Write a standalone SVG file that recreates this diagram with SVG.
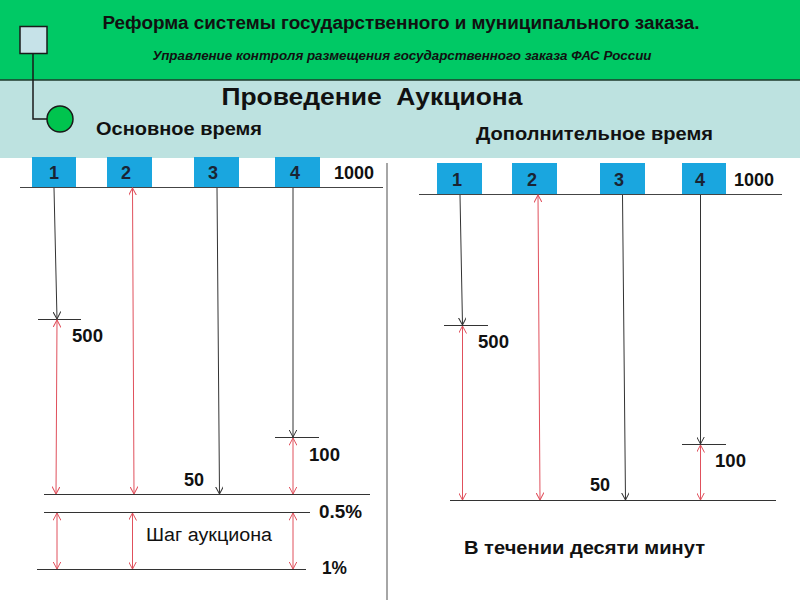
<svg xmlns="http://www.w3.org/2000/svg" width="800" height="600" viewBox="0 0 800 600">
<defs>
<style>
text{font-family:"Liberation Sans",Arial,sans-serif;fill:#111}
.b{font-weight:bold}
.num{font-weight:bold;font-size:18px;fill:#1a2433;text-anchor:middle}
.lbl{font-weight:bold;font-size:18px}
.box{fill:#1aa6df}
.k{stroke:#333;stroke-width:1;fill:none}
.r{stroke:#e0505c;stroke-width:1;fill:none}
.axis{stroke:#444;stroke-width:1.2;fill:none}
</style>
<marker id="ak" viewBox="0 0 8 8" refX="7.5" refY="4" markerWidth="8" markerHeight="8" markerUnits="userSpaceOnUse" orient="auto-start-reverse">
<path d="M0,0 L7.5,4 L0,8" fill="none" stroke="#333" stroke-width="1"/>
</marker>
<marker id="ar" viewBox="0 0 8 8" refX="7.5" refY="4" markerWidth="8" markerHeight="8" markerUnits="userSpaceOnUse" orient="auto-start-reverse">
<path d="M0,0 L7.5,4 L0,8" fill="none" stroke="#e0505c" stroke-width="1"/>
</marker>
</defs>
<rect width="800" height="600" fill="#fff"/>
<g id="header">
<rect x="0" y="0" width="800" height="80" fill="#00c965"/>
<rect x="0" y="80" width="800" height="78" fill="#bde2e0"/>
<line x1="0" y1="80" x2="800" y2="80" stroke="#1e3a2c" stroke-width="1.5"/>
<text x="401" y="29" class="b" font-size="18" text-anchor="middle" textLength="597" lengthAdjust="spacingAndGlyphs" fill="#111">Реформа системы государственного и муниципального заказа.</text>
<text x="402" y="60" class="b" font-size="12.5" font-style="italic" text-anchor="middle" textLength="499" lengthAdjust="spacingAndGlyphs">Управление контроля размещения государственного заказа ФАС России</text>
<text x="372" y="105" class="b" font-size="24" text-anchor="middle" textLength="301" lengthAdjust="spacingAndGlyphs" xml:space="preserve" style="white-space:pre">Проведение  Аукциона</text>
<text x="96" y="135" class="b" font-size="18" textLength="166" lengthAdjust="spacingAndGlyphs">Основное время</text>
<text x="476" y="140" class="b" font-size="18" textLength="237" lengthAdjust="spacingAndGlyphs">Дополнительное время</text>
</g>
<g id="logo">
<polyline points="33,53 33,119 48,119" fill="none" stroke="#1a1a1a" stroke-width="1.5"/>
<rect x="20" y="26.5" width="27" height="27" fill="#c6e2e8" stroke="#1a1a1a" stroke-width="1.5"/>
<circle cx="60" cy="119" r="13" fill="#00c44e" stroke="#1a1a1a" stroke-width="1.5"/>
</g>
<line x1="387" y1="163" x2="387" y2="600" stroke="#888" stroke-width="1.5"/>
<g id="left-bidders">
<g id="L1"><rect class="box" x="32" y="157" width="44" height="30"/><text class="num" x="54" y="179">1</text></g>
<g id="L2"><rect class="box" x="107" y="157" width="45" height="30"/><text class="num" x="126" y="179">2</text></g>
<g id="L3"><rect class="box" x="194" y="157" width="45" height="30"/><text class="num" x="213" y="179">3</text></g>
<g id="L4"><rect class="box" x="275" y="157" width="45" height="30"/><text class="num" x="295" y="179">4</text></g>
<text class="lbl" x="334" y="179">1000</text>
</g>
<g id="right-bidders">
<g id="R1"><rect class="box" x="437" y="163" width="45" height="31"/><text class="num" x="457" y="186">1</text></g>
<g id="R2"><rect class="box" x="512" y="163" width="45" height="31"/><text class="num" x="532" y="186">2</text></g>
<g id="R3"><rect class="box" x="600" y="163" width="45" height="31"/><text class="num" x="619" y="186">3</text></g>
<g id="R4"><rect class="box" x="682" y="163" width="44" height="31"/><text class="num" x="700" y="186">4</text></g>
<text class="lbl" x="734" y="186">1000</text>
</g>
<g id="levels">
<line class="axis" x1="20" y1="187.5" x2="383" y2="187.5"/>
<line class="k" x1="38" y1="319.5" x2="81" y2="319.5"/>
<line class="k" x1="275" y1="437.5" x2="319" y2="437.5"/>
<line class="k" x1="44" y1="494.5" x2="370" y2="494.5"/>
<line class="k" x1="44" y1="512.5" x2="310" y2="512.5"/>
<line class="k" x1="37" y1="569.5" x2="306" y2="569.5"/>
<line class="axis" x1="419" y1="194.5" x2="782" y2="194.5"/>
<line class="k" x1="444" y1="325.5" x2="488" y2="325.5"/>
<line class="k" x1="682" y1="444.5" x2="726" y2="444.5"/>
<line class="k" x1="450" y1="500.5" x2="776" y2="500.5"/>
</g>
<g id="connectors">
<line class="k" x1="54" y1="188" x2="57" y2="319" marker-end="url(#ak)"/>
<line class="r" x1="57" y1="320" x2="56" y2="494" marker-start="url(#ar)" marker-end="url(#ar)"/>
<line class="r" x1="132.5" y1="188" x2="134" y2="494" marker-start="url(#ar)" marker-end="url(#ar)"/>
<line class="k" x1="217" y1="188" x2="219.5" y2="494" marker-end="url(#ak)"/>
<line class="k" x1="293" y1="188" x2="293" y2="437" marker-end="url(#ak)"/>
<line class="r" x1="293" y1="438" x2="293" y2="494" marker-start="url(#ar)" marker-end="url(#ar)"/>
<line class="r" x1="57" y1="513" x2="57" y2="569" marker-start="url(#ar)" marker-end="url(#ar)"/>
<line class="r" x1="132.5" y1="513" x2="132.5" y2="569" marker-start="url(#ar)" marker-end="url(#ar)"/>
<line class="r" x1="293" y1="513" x2="293" y2="569" marker-start="url(#ar)" marker-end="url(#ar)"/>
<line class="k" x1="460" y1="195" x2="462.5" y2="325" marker-end="url(#ak)"/>
<line class="r" x1="462.5" y1="326" x2="462.5" y2="500" marker-start="url(#ar)" marker-end="url(#ar)"/>
<line class="r" x1="538" y1="195" x2="540" y2="500" marker-start="url(#ar)" marker-end="url(#ar)"/>
<line class="k" x1="622.5" y1="195" x2="625.5" y2="500" marker-end="url(#ak)"/>
<line class="k" x1="700.5" y1="195" x2="700.5" y2="444" marker-end="url(#ak)"/>
<line class="r" x1="700.5" y1="445" x2="700.5" y2="500" marker-start="url(#ar)" marker-end="url(#ar)"/>
</g>
<g id="labels">
<text class="lbl" x="72" y="342" textLength="31" lengthAdjust="spacingAndGlyphs">500</text>
<text class="lbl" x="309" y="461" textLength="31" lengthAdjust="spacingAndGlyphs">100</text>
<text class="lbl" x="184" y="486">50</text>
<text class="lbl" x="319" y="518" textLength="43" lengthAdjust="spacingAndGlyphs">0.5%</text>
<text x="146" y="541" font-size="18" textLength="126" lengthAdjust="spacingAndGlyphs">Шаг аукциона</text>
<text class="lbl" x="322" y="574" textLength="25" lengthAdjust="spacingAndGlyphs">1%</text>
<text class="lbl" x="478" y="348" textLength="31" lengthAdjust="spacingAndGlyphs">500</text>
<text class="lbl" x="715" y="467" textLength="31" lengthAdjust="spacingAndGlyphs">100</text>
<text class="lbl" x="590" y="491">50</text>
<text class="lbl" x="464" y="554" textLength="241" lengthAdjust="spacingAndGlyphs">В течении десяти минут</text>
</g>
</svg>
